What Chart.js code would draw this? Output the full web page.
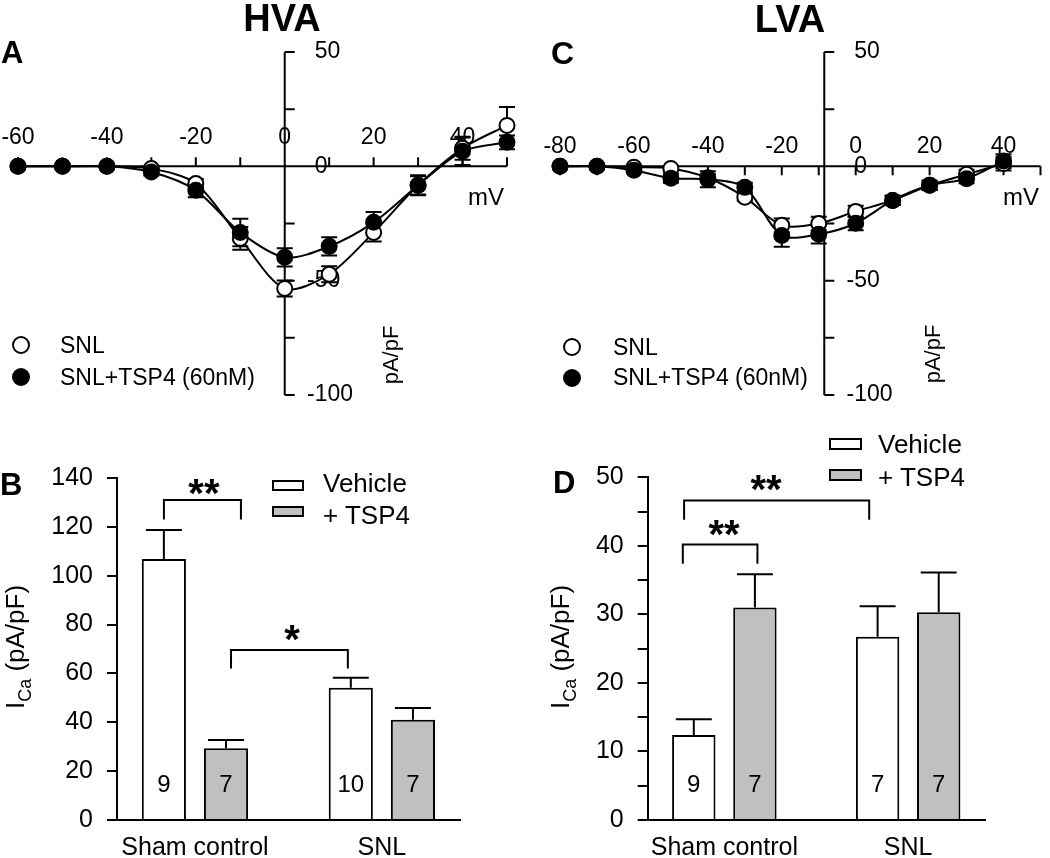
<!DOCTYPE html>
<html>
<head>
<meta charset="utf-8">
<script src="https://cdn.jsdelivr.net/npm/chart.js@4.4.1/dist/chart.umd.min.js"></script>
<style>
  body { margin: 0; background: #fff; }
  #page { position: relative; width: 1050px; height: 858px; overflow: hidden; background: #fff;
          font-family: "Liberation Sans", Arial, sans-serif; color: #000; }
  canvas { position: absolute; }
  .t { position: absolute; line-height: 1; white-space: nowrap; }
  .b { font-weight: bold; }
  .dot { position: absolute; width: 18px; height: 18px; box-sizing: border-box; border: 2px solid #000; border-radius: 50%; }
  .box { position: absolute; box-sizing: border-box; border: 2px solid #000; }
  .rot { transform: translate(-50%, -50%) rotate(-90deg); }
  .sub { font-size: 18px; position: relative; top: 7px; }
</style>
</head>
<body>
<div id="page">
  <canvas id="chartA" width="525" height="420" style="left:0;top:0"></canvas>
  <canvas id="chartC" width="525" height="420" style="left:525px;top:0"></canvas>
  <canvas id="chartB" width="525" height="438" style="left:0;top:420px"></canvas>
  <canvas id="chartD" width="525" height="438" style="left:525px;top:420px"></canvas>

  <!-- titles and panel letters -->
  <div class="t b" style="left:282px;top:-1px;font-size:38px;transform:translateX(-50%)">HVA</div>
  <div class="t b" style="left:790px;top:0px;font-size:38px;transform:translateX(-50%)">LVA</div>
  <div class="t b" style="left:1px;top:37px;font-size:31px">A</div>
  <div class="t b" style="left:551px;top:37px;font-size:32px">C</div>
  <div class="t b" style="left:0px;top:469px;font-size:31px">B</div>
  <div class="t b" style="left:553px;top:467px;font-size:31px">D</div>

  <!-- I-V legends -->
  <div class="dot" style="left:12px;top:336px;background:#fff"></div>
  <div class="dot" style="left:12px;top:368px;background:#000"></div>
  <div class="t" style="left:60px;top:334px;font-size:23px">SNL</div>
  <div class="t" style="left:60px;top:366px;font-size:23px">SNL+TSP4 (60nM)</div>
  <div class="dot" style="left:563px;top:338px;background:#fff"></div>
  <div class="dot" style="left:563px;top:369px;background:#000"></div>
  <div class="t" style="left:613px;top:336px;font-size:23px">SNL</div>
  <div class="t" style="left:613px;top:366px;font-size:23px">SNL+TSP4 (60nM)</div>

  <!-- I-V axis titles -->
  <div class="t" style="left:468px;top:185px;font-size:24px">mV</div>
  <div class="t" style="left:1003px;top:185px;font-size:24px">mV</div>
  <div class="t rot" style="left:391px;top:355px;font-size:22px">pA/pF</div>
  <div class="t rot" style="left:933px;top:354px;font-size:22px">pA/pF</div>

  <!-- bar chart legends -->
  <div class="box" style="left:272px;top:480px;width:32px;height:11px;background:#fff"></div>
  <div class="box" style="left:272px;top:506px;width:32px;height:11px;background:#c0c0c0"></div>
  <div class="t" style="left:323px;top:470px;font-size:26px">Vehicle</div>
  <div class="t" style="left:323px;top:502px;font-size:26px">+ TSP4</div>
  <div class="box" style="left:829px;top:438px;width:33px;height:12px;background:#fff"></div>
  <div class="box" style="left:829px;top:469px;width:33px;height:12px;background:#c0c0c0"></div>
  <div class="t" style="left:878px;top:431px;font-size:26px">Vehicle</div>
  <div class="t" style="left:878px;top:464px;font-size:26px">+ TSP4</div>

  <!-- bar chart y titles -->
  <div class="t rot" style="left:15px;top:647px;font-size:26px">I<span class="sub">Ca</span> (pA/pF)</div>
  <div class="t rot" style="left:560px;top:647px;font-size:26px">I<span class="sub">Ca</span> (pA/pF)</div>
</div>

<script>
const FONT = '"Liberation Sans", Arial, sans-serif';
const LW = 2; // stroke width used for axes, lines, bars

// ---- Panel A: HVA current-voltage ----
const hvaVoltages = [-60, -50, -40, -30, -20, -10, 0, 10, 20, 30, 40, 50];
const hvaSnl = [0, 0, 0, -1, -7.5, -31.5, -53.4, -47.2, -28.9, -8.3, 7.9, 17.9];
const hvaSnlErr = [0.5, 0.5, 0.5, 1, 2, 5, 3.5, 3.5, 4, 4, 5, 8];
const hvaTsp = [0, 0, 0, -2.5, -10.5, -28.9, -39.8, -35, -24.5, -8.3, 6.6, 10.5];
const hvaTspErr = [0.5, 0.5, 0.5, 1.5, 3, 6, 4, 4, 4.5, 4.4, 6, 3];
const hvaXTicks = [-60, -50, -40, -30, -20, -10, 0, 10, 20, 30, 40, 50];
const hvaXLabels = [-60, -40, -20, 0, 20, 40];

// ---- Panel C: LVA current-voltage ----
const lvaVoltages = [-80, -70, -60, -50, -40, -30, -20, -10, 0, 10, 20, 30, 40];
const lvaSnl = [0, 0, -0.4, -0.9, -5, -13.5, -25.8, -25, -19.7, -14.9, -8.3, -3.5, 1.2];
const lvaSnlErr = [0.5, 0.5, 0.5, 1, 1.5, 1.5, 3, 3, 2.5, 2, 2, 2, 3];
const lvaTsp = [0, 0, -1.7, -5.2, -5.7, -9.2, -30.2, -29.7, -24.9, -14.9, -8.3, -5.4, 2.3];
const lvaTspErr = [0.5, 0.5, 1, 2, 3.5, 2, 5, 4, 3, 2, 2, 2, 3];
const lvaXTicks = [-80, -70, -60, -50, -40, -30, -20, -10, 0, 10, 20, 30, 40, 50];
const lvaXLabels = [-80, -60, -40, -20, 0, 20, 40];

// shared current axis
const ivYTicks = [50, 25, 0, -25, -50, -75, -100];
const ivYLabels = [50, 0, -50, -100];

// ---- Panels B and D: peak currents ----
const groups = ["Sham control", "SNL"];
const hvaVehicle = [106.8, 54.1];
const hvaVehicleErr = [11.9, 4.1];
const hvaTsp4 = [29.4, 41.0];
const hvaTsp4Err = [3.3, 4.8];
const hvaVehicleN = [9, 10];
const hvaTsp4N = [7, 7];

const lvaVehicle = [12.4, 26.75];
const lvaVehicleErr = [2.3, 4.45];
const lvaTsp4 = [31.0, 30.3];
const lvaTsp4Err = [4.85, 5.8];
const lvaVehicleN = [9, 7];
const lvaTsp4N = [7, 7];

// significance brackets (data units)
const hvaBrackets = [
  { from: 0.834, to: 1.246, top: 131, leg: 123, mark: "**", markX: 1.048, markY: 137 },
  { from: 1.193, to: 1.818, top: 69.6, leg: 62, mark: "*", markX: 1.519, markY: 77.4 },
];
const lvaBrackets = [
  { from: 0.774, to: 1.18, top: 40.2, leg: 37.4, mark: "**", markX: 0.998, markY: 42.9 },
  { from: 0.781, to: 1.788, top: 46.6, leg: 43.8, mark: "**", markX: 1.227, markY: 49.5 },
];

Chart.defaults.font.family = FONT;
Chart.defaults.color = "#000";

// crossing axes + error bars for the I-V plots
function ivAxes(cfg) {
  return {
    id: "ivAxes",
    beforeDatasetsDraw(chart) {
      const { ctx, scales: { x, y } } = chart;
      const x0 = x.getPixelForValue(cfg.yAxisAt);
      const y0 = y.getPixelForValue(0);
      ctx.save();
      ctx.strokeStyle = "#000";
      ctx.fillStyle = "#000";
      ctx.lineWidth = LW;
      ctx.beginPath();
      ctx.moveTo(x.getPixelForValue(x.min), y0);
      ctx.lineTo(x.getPixelForValue(x.max), y0);
      ctx.moveTo(x0, y.getPixelForValue(y.max));
      ctx.lineTo(x0, y.getPixelForValue(y.min));
      cfg.xTicks.forEach((v) => {
        const px = x.getPixelForValue(v);
        ctx.moveTo(px, y0);
        ctx.lineTo(px, y0 + cfg.xTickDir * 9);
      });
      cfg.yTicks.forEach((v) => {
        const py = y.getPixelForValue(v);
        ctx.moveTo(x0, py);
        ctx.lineTo(x0 + 10, py);
      });
      ctx.stroke();

      ctx.font = "23px " + FONT;
      ctx.textBaseline = "middle";
      ctx.textAlign = "center";
      cfg.xLabels.forEach((v) => {
        ctx.fillText(String(v), x.getPixelForValue(v), y0 - cfg.xLabelGap);
      });
      ctx.textAlign = "left";
      const minus = ctx.measureText("-").width;
      cfg.yLabels.forEach((v) => {
        ctx.fillText(String(v), x0 + 30 - (v < 0 ? minus : 0), y.getPixelForValue(v));
      });

      // error bars, both directions
      chart.data.datasets.forEach((ds, di) => {
        ds.data.forEach((p, i) => {
          const e = cfg.errors[di][i];
          const px = x.getPixelForValue(p.x);
          const yt = y.getPixelForValue(p.y + e);
          const yb = y.getPixelForValue(p.y - e);
          ctx.beginPath();
          ctx.moveTo(px, yt);
          ctx.lineTo(px, yb);
          ctx.moveTo(px - 8, yt);
          ctx.lineTo(px + 8, yt);
          ctx.moveTo(px - 8, yb);
          ctx.lineTo(px + 8, yb);
          ctx.stroke();
        });
      });
      ctx.restore();
    },
  };
}

function ivDataset(label, xs, ys, fill, order) {
  return {
    label: label,
    data: xs.map((v, i) => ({ x: v, y: ys[i] })),
    borderColor: "#000",
    borderWidth: LW,
    tension: 0.3,
    pointRadius: 7.5,
    pointHoverRadius: 7.5,
    pointBorderWidth: LW,
    pointBorderColor: "#000",
    pointBackgroundColor: fill,
    clip: false,
    order: order,
  };
}

function ivChart(id, xs, snl, tsp, xMin, xMax, pad, axisCfg) {
  return new Chart(document.getElementById(id), {
    type: "line",
    data: {
      datasets: [
        ivDataset("SNL", xs, snl, "#fff", 2),
        ivDataset("SNL+TSP4 (60nM)", xs, tsp, "#000", 1),
      ],
    },
    options: {
      responsive: false,
      animation: false,
      events: [],
      layout: { padding: pad },
      scales: {
        x: { type: "linear", min: xMin, max: xMax, display: false },
        y: { type: "linear", min: -100, max: 50, display: false },
      },
      plugins: { legend: { display: false }, tooltip: { enabled: false } },
    },
    plugins: [ivAxes(axisCfg)],
  });
}

ivChart("chartA", hvaVoltages, hvaSnl, hvaTsp, -60, 50,
  { left: 18, right: 18, top: 52, bottom: 25 },
  { yAxisAt: 0, xTicks: hvaXTicks, xLabels: hvaXLabels, xTickDir: -1, xLabelGap: 29,
    yTicks: ivYTicks, yLabels: ivYLabels, errors: [hvaSnlErr, hvaTspErr] });

ivChart("chartC", lvaVoltages, lvaSnl, lvaTsp, -80, 50,
  { left: 35, right: 2.5, top: 52, bottom: 25 },
  { yAxisAt: -8.5, xTicks: lvaXTicks, xLabels: lvaXLabels, xTickDir: 1, xLabelGap: 20,
    yTicks: ivYTicks, yLabels: ivYLabels, errors: [lvaSnlErr, lvaTspErr] });

// error bars, n labels and brackets for the bar plots
function barExtras(cfg) {
  return {
    id: "barExtras",
    afterDatasetsDraw(chart) {
      const { ctx, scales: { x, y } } = chart;
      ctx.save();
      ctx.strokeStyle = "#000";
      ctx.fillStyle = "#000";
      ctx.lineWidth = LW;
      chart.data.datasets.forEach((ds, di) => {
        chart.getDatasetMeta(di).data.forEach((bar, i) => {
          const top = y.getPixelForValue(ds.data[i].y + cfg.errors[di][i]);
          ctx.beginPath();
          ctx.moveTo(bar.x, bar.y);
          ctx.lineTo(bar.x, top);
          ctx.moveTo(bar.x - 18, top);
          ctx.lineTo(bar.x + 18, top);
          ctx.stroke();
          ctx.font = "24px " + FONT;
          ctx.textAlign = "center";
          ctx.textBaseline = "middle";
          ctx.fillText(String(cfg.counts[di][i]), bar.x, bar.base - 34);
        });
      });
      cfg.brackets.forEach((b) => {
        const xl = x.getPixelForValue(b.from);
        const xr = x.getPixelForValue(b.to);
        const yt = y.getPixelForValue(b.top);
        const yl = y.getPixelForValue(b.leg);
        ctx.beginPath();
        ctx.moveTo(xl, yl);
        ctx.lineTo(xl, yt);
        ctx.lineTo(xr, yt);
        ctx.lineTo(xr, yl);
        ctx.stroke();
        ctx.font = "bold 40px " + FONT;
        ctx.textAlign = "center";
        ctx.textBaseline = "alphabetic";
        ctx.fillText(b.mark, x.getPixelForValue(b.markX), y.getPixelForValue(b.markY) + 22);
      });
      ctx.restore();
    },
  };
}

function barDataset(label, vals, fill) {
  return {
    label: label,
    data: vals.map((v, i) => ({ x: i + 1, y: v })),
    backgroundColor: fill,
    borderColor: "#000",
    borderWidth: LW,
    categoryPercentage: 0.665,
    barPercentage: 0.71,
  };
}

function barChart(id, vehicle, tsp4, yMax, step, labelEvery, axisWidth, padTop, extras) {
  return new Chart(document.getElementById(id), {
    type: "bar",
    data: {
      datasets: [
        barDataset("Vehicle", vehicle, "#fff"),
        barDataset("+ TSP4", tsp4, "#c0c0c0"),
      ],
    },
    options: {
      responsive: false,
      animation: false,
      events: [],
      layout: { padding: { left: 0, right: 65, top: padTop, bottom: 0 } },
      scales: {
        x: {
          type: "linear",
          offset: false,
          min: 0.583,
          max: 2.418,
          afterBuildTicks: (s) => { s.ticks = [{ value: 1 }, { value: 2 }]; },
          afterFit: (s) => { s.height = 38; },
          ticks: {
            callback: (v) => groups[v - 1],
            font: { size: 25 },
            color: "#000",
            padding: 13,
            maxRotation: 0,
            autoSkip: false,
          },
          grid: { display: false, drawTicks: false, offset: false },
          border: { display: true, color: "#000", width: LW },
        },
        y: {
          min: 0,
          max: yMax,
          afterFit: (s) => { s.width = axisWidth; },
          ticks: {
            stepSize: step,
            callback: (v) => (v % labelEvery === 0 ? v : ""),
            font: { size: 25 },
            color: "#000",
            padding: 14,
          },
          grid: { drawOnChartArea: false, tickLength: 10, color: "#000", lineWidth: LW },
          border: { display: true, color: "#000", width: LW },
        },
      },
      plugins: { legend: { display: false }, tooltip: { enabled: false } },
    },
    plugins: [barExtras(extras)],
  });
}

barChart("chartB", hvaVehicle, hvaTsp4, 140, 20, 20, 117, 58, {
  errors: [hvaVehicleErr, hvaTsp4Err],
  counts: [hvaVehicleN, hvaTsp4N],
  brackets: hvaBrackets,
});

barChart("chartD", lvaVehicle, lvaTsp4, 50, 5, 10, 122.7, 57.3, {
  errors: [lvaVehicleErr, lvaTsp4Err],
  counts: [lvaVehicleN, lvaTsp4N],
  brackets: lvaBrackets,
});
</script>
</body>
</html>
